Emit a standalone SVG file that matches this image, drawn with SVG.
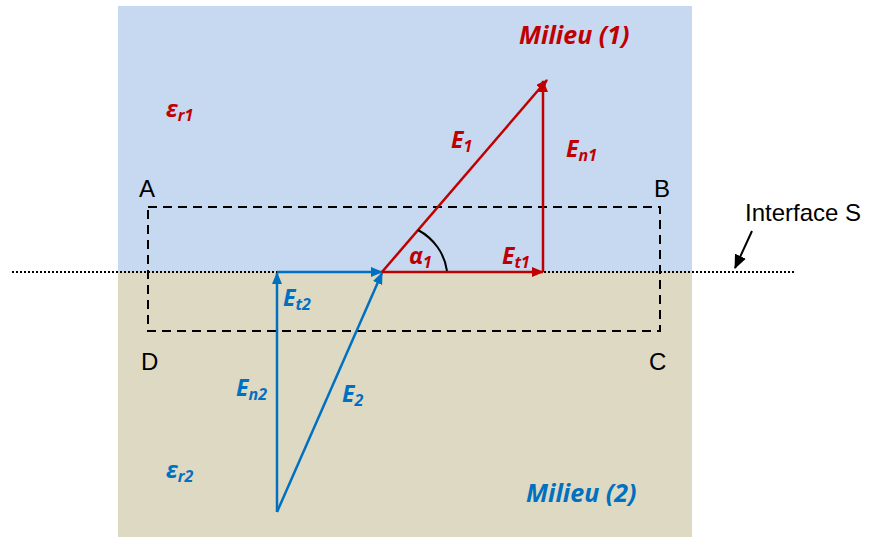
<svg xmlns="http://www.w3.org/2000/svg" width="876" height="537" viewBox="0 0 876 537">
<style>
.lbl{font-family:"Liberation Sans",Arial,sans-serif;font-size:24px;fill:#000}
.r{fill:#C00000}
.b{fill:#0070C0}
.v{font-family:"Open Sans","Liberation Sans",sans-serif;font-weight:bold;font-style:italic;font-size:23px}
.m{font-size:25px}
.s{font-size:16px}
.red{stroke:#C00000;stroke-width:2.5;fill:none}
.blue{stroke:#0070C0;stroke-width:2.5;fill:none}
</style>
<defs>
<marker id="ar" viewBox="0 0 12 10" refX="11" refY="5" markerWidth="12" markerHeight="10" markerUnits="userSpaceOnUse" orient="auto"><path d="M0,0 L12,5 L0,10 z" fill="#C00000"/></marker>
<marker id="ab" viewBox="0 0 12 10" refX="11" refY="5" markerWidth="12" markerHeight="10" markerUnits="userSpaceOnUse" orient="auto"><path d="M0,0 L12,5 L0,10 z" fill="#0070C0"/></marker>
<marker id="ak" viewBox="0 0 14 12" refX="13" refY="6" markerWidth="14" markerHeight="12" markerUnits="userSpaceOnUse" orient="auto"><path d="M0,0 L14,6 L0,12 z" fill="#000"/></marker>
</defs>
<g id="background">
<rect x="118" y="6" width="574" height="266" fill="#C6D9F1"/>
<rect x="118" y="272" width="574" height="265" fill="#DDD9C3"/>
</g>
<g id="connectors">
<line x1="12" y1="272" x2="795" y2="272" stroke="#000" stroke-width="2" stroke-dasharray="2,2"/>
<rect x="148" y="207" width="512" height="124" fill="none" stroke="#000" stroke-width="2" stroke-dasharray="9,6"/>
<line x1="752" y1="231" x2="735" y2="268" stroke="#000" stroke-width="2" marker-end="url(#ak)"/>
<line x1="277" y1="272" x2="382" y2="272" class="blue" marker-end="url(#ab)"/>
<line x1="277" y1="512" x2="277" y2="273" class="blue" marker-end="url(#ab)"/>
<line x1="277" y1="512" x2="382" y2="273" class="blue" marker-end="url(#ab)"/>
<line x1="382" y1="272" x2="543" y2="272" class="red" marker-end="url(#ar)"/>
<line x1="543" y1="272" x2="543" y2="81" class="red" marker-end="url(#ar)"/>
<line x1="382" y1="272" x2="547" y2="80" class="red" marker-end="url(#ar)"/>
<path d="M418,230 A58,55 0 0 1 447,271" fill="none" stroke="#000" stroke-width="2"/>
</g>
<g id="corners">
<text class="lbl" x="139" y="197">A</text>
<text class="lbl" x="654" y="197">B</text>
<text class="lbl" x="141" y="370">D</text>
<text class="lbl" x="649" y="370">C</text>
<text class="lbl" x="745" y="221">Interface S</text>
</g>
<g id="labels">
<text class="v r m" x="519" y="44">Milieu (1)</text>
<text class="v b m" x="526" y="502">Milieu (2)</text>
<text class="v r" x="166" y="117">ε<tspan class="s" dy="4">r1</tspan></text>
<text class="v b" x="166" y="478">ε<tspan class="s" dy="4">r2</tspan></text>
<text class="v r" x="451" y="148">E<tspan class="s" dy="4">1</tspan></text>
<text class="v r" x="566" y="157">E<tspan class="s" dy="4">n1</tspan></text>
<text class="v r" x="409" y="264">α<tspan class="s" dy="4">1</tspan></text>
<text class="v r" x="502" y="264">E<tspan class="s" dy="4">t1</tspan></text>
<text class="v b" x="283" y="306">E<tspan class="s" dy="4">t2</tspan></text>
<text class="v b" x="236" y="396">E<tspan class="s" dy="4">n2</tspan></text>
<text class="v b" x="342" y="402">E<tspan class="s" dy="4">2</tspan></text>
</g>
</svg>
